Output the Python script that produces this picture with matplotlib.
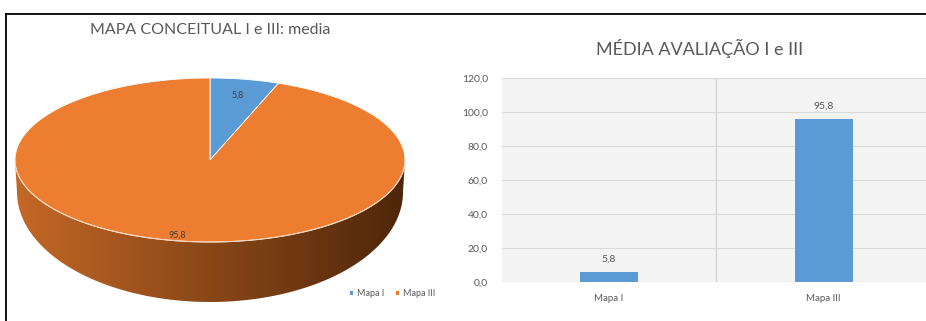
#!/usr/bin/env python3
# -*- coding=utf-8 -*-

import numpy as np
import matplotlib
matplotlib.use('Agg')
from matplotlib import pyplot as plt
from matplotlib.patches import Polygon
from matplotlib.lines import Line2D

categories = ['Mapa I', 'Mapa III']
values = [5.8, 95.8]
value_labels = ['5,8', '95,8']
yticks = [0, 20, 40, 60, 80, 100, 120]
ytick_labels = ['0,0', '20,0', '40,0', '60,0', '80,0', '100,0', '120,0']
pie_title = 'MAPA CONCEITUAL I e III: media'
bar_title = 'MÉDIA AVALIAÇÃO I e III'

BLUE = '#5b9bd5'
ORANGE = '#ed7d31'
GRAY_TXT = '#595959'

W, H = 926, 321


def ellipse_pts(cx, cy, a, b, t0, t1, n=200):
    t = np.radians(np.linspace(t0, t1, n))
    return np.column_stack([cx + a * np.cos(t), cy - b * np.sin(t)])


def main():
    plt.rcParams['font.family'] = ['Lato', 'DejaVu Sans']
    fig = plt.figure(figsize=(W / 100, H / 100), dpi=100)

    # ---- left: 3d-looking pie, axes in pixel units
    ax = fig.add_axes([0, 0, 460 / W, 1])
    ax.set_xlim(0, 460)
    ax.set_ylim(H, 0)
    ax.axis('off')

    cx, cy, a, b = 210, 160, 195, 82
    bcy, ba, bb = 192, 193, 110

    # side of the disc with gradient
    top_edge = ellipse_pts(cx, cy, a, b, 180, 360)
    bot_edge = ellipse_pts(cx, bcy, ba, bb, 360, 180)
    side = Polygon(np.vstack([top_edge, bot_edge]), closed=True,
                   facecolor='none', edgecolor='none')
    ax.add_patch(side)
    gx = np.linspace(0, 1, 256)
    c0 = np.array([196, 104, 38]) / 255
    c1 = np.array([78, 38, 10]) / 255
    grad = c0[None, :] * (1 - gx[:, None]) + c1[None, :] * gx[:, None]
    img = ax.imshow(grad[None, :, :], extent=(15, 405, 310, 150),
                    aspect='auto', zorder=1, interpolation='bilinear')
    img.set_clip_path(side)

    # top face wedges from the data
    total = sum(values)
    start = 90.0
    colors = [BLUE, ORANGE]
    handles = []
    label_r = [0.8, 0.93]
    for i, v in enumerate(values):
        sweep = v / total * 360
        pts = ellipse_pts(cx, cy, a, b, start, start - sweep)
        poly = Polygon(np.vstack([[cx, cy], pts]), closed=True,
                       facecolor=colors[i], edgecolor='white', lw=0.6,
                       zorder=2, label=categories[i])
        ax.add_patch(poly)
        handles.append(poly)
        mid = np.radians(start - sweep / 2)
        ax.text(cx + a * label_r[i] * np.cos(mid),
                cy - b * label_r[i] * np.sin(mid),
                value_labels[i], fontsize=6.5, color='#404040',
                ha='center', va='center', zorder=3)
        start -= sweep

    ax.plot(top_edge[:, 0], top_edge[:, 1], color='#f6d2b8', lw=0.8, zorder=2)

    ax.text(210, 30, pie_title, fontsize=11.5, color=GRAY_TXT,
            ha='center', va='center')
    ax.legend(handles=handles, loc='center', bbox_to_anchor=(392 / 460, 1 - 293 / H),
              ncol=2, frameon=False, fontsize=6.5, handlelength=0.5,
              handleheight=0.5, handletextpad=0.4, columnspacing=1.2,
              labelcolor=GRAY_TXT)

    # ---- right: bar chart
    left, right = 501.7, 931
    bottom, top = 281.7, 77.7
    bx = fig.add_axes([left / W, 1 - bottom / H, (right - left) / W, (bottom - top) / H])
    bx.set_facecolor('#f4f4f4')
    x = np.arange(len(categories))
    bars = bx.bar(x, values, width=0.27, color=BLUE, zorder=3)
    bx.set_xlim(-0.5, 1.5)
    bx.set_ylim(0, 120)
    bx.set_yticks(yticks)
    bx.set_yticklabels(ytick_labels)
    bx.set_xticks(x)
    bx.set_xticklabels(categories)
    bx.tick_params(length=0, labelsize=7.5, colors=GRAY_TXT, pad=10)
    bx.tick_params(axis='x', labelsize=7, pad=9)
    for s in bx.spines.values():
        s.set_visible(False)
    bx.grid(axis='y', color='#dadada', lw=0.8, zorder=0)
    bx.axvline(0.5, color='#cfcfcf', lw=0.8, zorder=1)
    bx.axhline(0, color='#d0d0d0', lw=0.8, zorder=4)
    bx.bar_label(bars, labels=value_labels, padding=6, fontsize=7.5, color=GRAY_TXT)
    fig.text(700 / W, 1 - 48 / H, bar_title, fontsize=13, color=GRAY_TXT,
             ha='center', va='center')

    # frame lines
    fig.add_artist(Line2D([6 / W, 1], [1 - 14 / H, 1 - 14 / H], color='black', lw=1.3))
    fig.add_artist(Line2D([6 / W, 6 / W], [0, 1 - 14 / H], color='black', lw=1.3))

    fig.savefig('out.png', dpi=100)


if "__main__" == __name__:
    main()
